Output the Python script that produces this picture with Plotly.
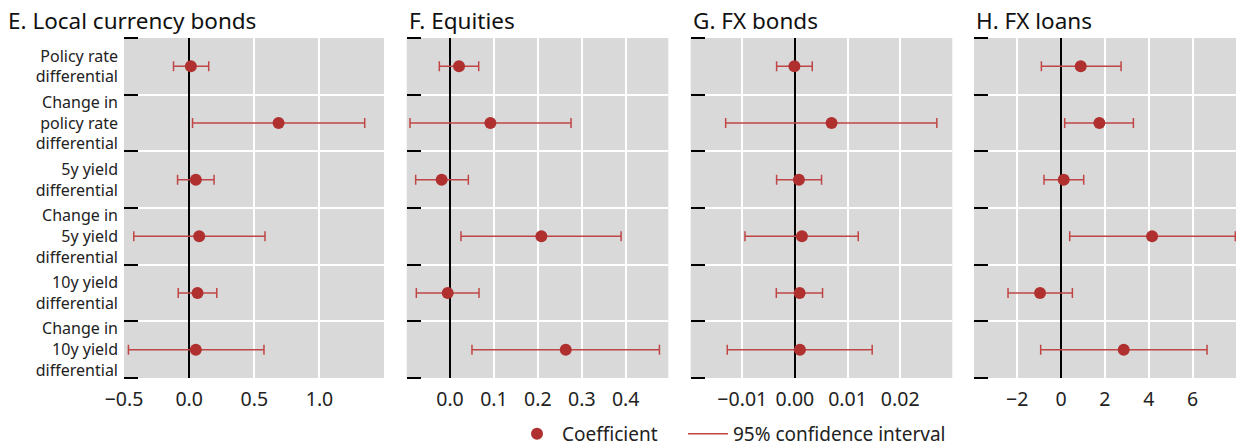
import plotly.graph_objects as go

categories = ["Policy rate<br>differential",
              "Change in<br>policy rate<br>differential",
              "5y yield<br>differential",
              "Change in<br>5y yield<br>differential",
              "10y yield<br>differential",
              "Change in<br>10y yield<br>differential"]

panel_titles = ["E. Local currency bonds", "F. Equities", "G. FX bonds", "H. FX loans"]

# Panel E: local currency bonds
e_coef = [0.013, 0.686, 0.051, 0.077, 0.064, 0.051]
e_low = [-0.12, 0.026, -0.089, -0.425, -0.084, -0.466]
e_high = [0.15, 1.347, 0.191, 0.582, 0.212, 0.574]

# Panel F: equities
f_coef = [0.0205, 0.0919, -0.019, 0.208, -0.0053, 0.2635]
f_low = [-0.0243, -0.0911, -0.0782, 0.025, -0.0767, 0.050]
f_high = [0.0653, 0.2756, 0.0418, 0.3895, 0.066, 0.4768]

# Panel G: FX bonds
g_coef = [-0.0001, 0.00696, 0.00076, 0.00133, 0.00089, 0.00095]
g_low = [-0.00348, -0.01316, -0.00348, -0.00949, -0.00354, -0.01285]
g_high = [0.00329, 0.02696, 0.00506, 0.01203, 0.00525, 0.01468]

# Panel H: FX loans
h_coef = [0.897, 1.749, 0.122, 4.152, -0.958, 2.859]
h_low = [-0.897, 0.167, -0.776, 0.395, -2.418, -0.928]
h_high = [2.738, 3.30, 1.034, 7.95, 0.517, 6.66]

x_ranges = [[-0.5, 1.495], [-0.0986, 0.497], [-0.0198, 0.0299], [-3.97, 7.98]]
x_ticks = [[-0.5, 0.0, 0.5, 1.0], [0.0, 0.1, 0.2, 0.3, 0.4],
           [-0.01, 0.0, 0.01, 0.02], [-2, 0, 2, 4, 6]]
x_ticktext = [["\u22120.5", "0.0", "0.5", "1.0"], ["0.0", "0.1", "0.2", "0.3", "0.4"],
              ["\u22120.01", "0.00", "0.01", "0.02"], ["\u22122", "0", "2", "4", "6"]]

panels = [(e_coef, e_low, e_high), (f_coef, f_low, f_high),
          (g_coef, g_low, g_high), (h_coef, h_low, h_high)]

W, H = 1236, 448
x_px = [(124, 384), (406.7, 668.3), (690.7, 952.3), (974, 1236)]
y_px = (38, 378)

DOT = "#b03030"
LINE = "#c04646"
BG = "#d9d9d9"
FONT = "Noto Sans"

fig = go.Figure()
rows = list(range(len(categories)))

for i, (coef, low, high) in enumerate(panels):
    ax = "" if i == 0 else str(i + 1)
    fig.add_trace(go.Scatter(
        x=coef, y=rows, mode="markers",
        marker=dict(color=DOT, size=12),
        error_x=dict(type="data", symmetric=False,
                     array=[h - c for h, c in zip(high, coef)],
                     arrayminus=[c - l for c, l in zip(coef, low)],
                     color=LINE, thickness=1.5, width=5),
        xaxis="x" + ax, yaxis="y" + ax, showlegend=False, hoverinfo="skip"))

    xa = dict(domain=[x_px[i][0] / W, x_px[i][1] / W], range=x_ranges[i],
              anchor="y" + ax, tickvals=x_ticks[i], ticktext=x_ticktext[i],
              showgrid=True, gridcolor="white", gridwidth=1.5,
              zeroline=True, zerolinecolor="black", zerolinewidth=1.5,
              showline=False, ticks="", automargin=False, ticklabelstandoff=7,
              tickfont=dict(family=FONT, size=19.5, color="#222"))
    ya = dict(domain=[1 - y_px[1] / H, 1 - y_px[0] / H], range=[5.5, -0.5],
              anchor="x" + ax, tickvals=rows,
              ticktext=categories if i == 0 else [""] * len(rows),
              showticklabels=(i == 0), ticks="", showgrid=False,
              zeroline=False, showline=False, automargin=False,
              ticklabelstandoff=5,
              tickfont=dict(family=FONT, size=16, color="#222"),
              minor=dict(tick0=0.5, dtick=1, ticks="inside", ticklen=14,
                         tickcolor="black", tickwidth=1.5,
                         showgrid=True, gridcolor="white", gridwidth=1.5))
    fig.layout["xaxis" + ax] = xa
    fig.layout["yaxis" + ax] = ya
    fig.add_annotation(text=panel_titles[i], xref="paper", yref="paper",
                       x=(x_px[i][0] if i > 0 else 6) / W, y=1 - 3 / H,
                       xanchor="left", yanchor="top", showarrow=False,
                       font=dict(family=FONT, size=22.5, color="#111"))

# legend entries
fig.add_trace(go.Scatter(x=[None], y=[None], mode="markers", name="Coefficient",
                         marker=dict(color=DOT, size=12), xaxis="x", yaxis="y",
                         legend="legend"))
fig.add_trace(go.Scatter(x=[None], y=[None], mode="lines", name="95% confidence interval",
                         line=dict(color=LINE, width=1.5), xaxis="x", yaxis="y",
                         legend="legend2"))

legend_style = dict(orientation="h", y=14 / H, xanchor="left", yanchor="middle",
                    font=dict(family=FONT, size=19, color="#222"),
                    bgcolor="rgba(0,0,0,0)", itemwidth=40)

fig.update_layout(
    width=W, height=H, margin=dict(l=0, r=0, t=0, b=0, autoexpand=False),
    paper_bgcolor="white", plot_bgcolor=BG,
    font=dict(family=FONT, color="#222"),
    legend=dict(x=512 / W, **legend_style),
    legend2=dict(x=683 / W, **legend_style),
)

fig.write_html("out.html", config={"displayModeBar": False},
               post_script="document.body.style.margin='0';document.body.style.overflow='hidden';")
